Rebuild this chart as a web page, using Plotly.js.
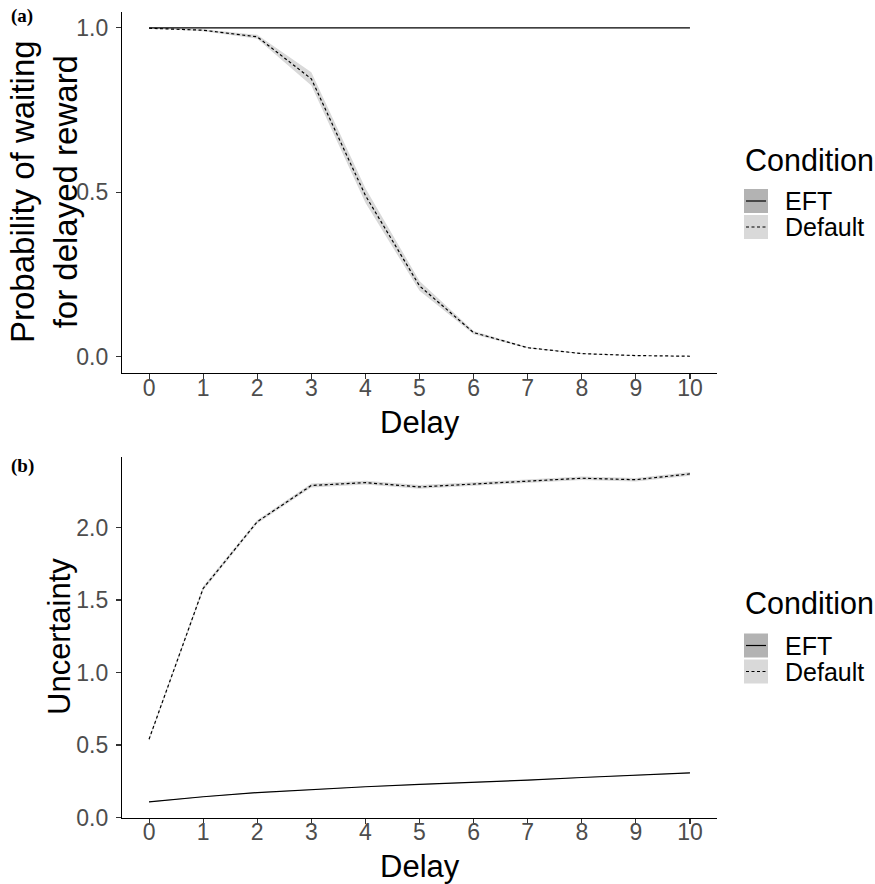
<!DOCTYPE html>
<html>
<head>
<meta charset="utf-8">
<script src="https://cdn.plot.ly/plotly-3.0.1.min.js"></script>
<style>html,body{margin:0;padding:0;background:#fff;}#chart{width:875px;height:884px;}</style>
</head>
<body>
<div id="chart"></div>
<script>
// ---- data ----
const delay = [0, 1, 2, 3, 4, 5, 6, 7, 8, 9, 10];
const xTickLabels = ['0','1','2','3','4','5','6','7','8','9','10'];
const conditions = ['EFT', 'Default'];

// panel (a): probability of waiting for delayed reward
const probEFT      = [1.000, 1.000, 1.000, 1.000, 1.000, 1.000, 1.000, 1.000, 1.000, 1.000, 1.000];
const probEFTLo    = [0.9995, 0.9995, 0.9995, 0.9995, 0.9995, 0.9995, 0.9995, 0.9995, 0.9995, 0.9995, 0.9995];
const probEFTHi    = [1.000, 1.000, 1.000, 1.000, 1.000, 1.000, 1.000, 1.000, 1.000, 1.000, 1.000];
const probDefault   = [0.999, 0.993, 0.973, 0.845, 0.490, 0.215, 0.073, 0.027, 0.009, 0.003, 0.001];
const probDefaultLo = [0.998, 0.990, 0.967, 0.825, 0.468, 0.200, 0.068, 0.025, 0.008, 0.0025, 0.0007];
const probDefaultHi = [1.000, 0.996, 0.979, 0.865, 0.512, 0.230, 0.078, 0.029, 0.010, 0.0035, 0.0013];

// panel (b): uncertainty
const uncEFT      = [0.108, 0.143, 0.172, 0.193, 0.212, 0.228, 0.242, 0.258, 0.276, 0.292, 0.308];
const uncEFTLo    = [0.106, 0.141, 0.170, 0.191, 0.210, 0.226, 0.240, 0.256, 0.274, 0.290, 0.306];
const uncEFTHi    = [0.110, 0.145, 0.174, 0.195, 0.214, 0.230, 0.244, 0.260, 0.278, 0.294, 0.310];
const uncDefault   = [0.54, 1.58, 2.04, 2.29, 2.31, 2.28, 2.30, 2.32, 2.34, 2.33, 2.37];
const uncDefaultLo = [0.53, 1.565, 2.028, 2.277, 2.297, 2.267, 2.288, 2.308, 2.328, 2.318, 2.357];
const uncDefaultHi = [0.55, 1.595, 2.052, 2.303, 2.323, 2.293, 2.312, 2.332, 2.352, 2.342, 2.383];

// ---- styling ----
const W = 875, H = 884;
const px = v => v / W;
const py = v => 1 - v / H;
const sansFont = 'Liberation Sans, Arial, sans-serif';
const serifFont = 'Liberation Serif, Times New Roman, serif';
const fillEFT = '#b3b3b3';
const fillDefault = '#d9d9d9';
const dotDash = '3px,2.5px';
const lineW = 1.2;

function ribbon(x, lo, hi, fill, xa, ya) {
  return [
    {x: x, y: lo, xaxis: xa, yaxis: ya, mode: 'lines', line: {width: 0, color: fill}, showlegend: false, hoverinfo: 'skip'},
    {x: x, y: hi, xaxis: xa, yaxis: ya, mode: 'lines', line: {width: 0, color: fill}, fill: 'tonexty', fillcolor: fill, showlegend: false, hoverinfo: 'skip'}
  ];
}
function line(x, y, dash, xa, ya, name) {
  return {x: x, y: y, xaxis: xa, yaxis: ya, mode: 'lines', name: name,
          line: {color: 'black', width: lineW, dash: dash}, showlegend: false};
}

const traces = [].concat(
  ribbon(delay, probEFTLo, probEFTHi, fillEFT, 'x', 'y'),
  ribbon(delay, probDefaultLo, probDefaultHi, fillDefault, 'x', 'y'),
  [line(delay, probEFT, 'solid', 'x', 'y', conditions[0]),
   line(delay, probDefault, dotDash, 'x', 'y', conditions[1])],
  ribbon(delay, uncEFTLo, uncEFTHi, fillEFT, 'x2', 'y2'),
  ribbon(delay, uncDefaultLo, uncDefaultHi, fillDefault, 'x2', 'y2'),
  [line(delay, uncEFT, 'solid', 'x2', 'y2', conditions[0]),
   line(delay, uncDefault, dotDash, 'x2', 'y2', conditions[1])]
);

const axisCommon = {
  showgrid: false, zeroline: false, showline: true, linecolor: 'black', linewidth: 1.1,
  ticks: 'outside', ticklen: 5, tickwidth: 1.1, tickcolor: '#333333',
  tickfont: {family: sansFont, size: 23, color: '#4d4d4d'}, fixedrange: true
};

const xDomain = [px(122), px(717)];

// legend pieces (drawn manually to mimic ggplot keys)
function legendItems(titleY, box1Top, box2Top) {
  const shapes = [];
  const anns = [];
  const boxes = [[box1Top, fillEFT, 'solid'], [box2Top, fillDefault, 'dot']];
  boxes.forEach((b, i) => {
    shapes.push({type: 'rect', xref: 'paper', yref: 'paper', x0: px(744), x1: px(768), y0: py(b[0]), y1: py(b[0] + 24),
                 fillcolor: b[1], line: {width: 0}, layer: 'above'});
    shapes.push({type: 'line', xref: 'paper', yref: 'paper', x0: px(746), x1: px(766), y0: py(b[0] + 12), y1: py(b[0] + 12),
                 line: {color: 'black', width: lineW, dash: b[2] === 'solid' ? 'solid' : dotDash}, layer: 'above'});
    anns.push({xref: 'paper', yref: 'paper', x: px(783), y: py(b[0] + 12), xanchor: 'left', yanchor: 'middle',
               text: conditions[i], showarrow: false, font: {family: sansFont, size: 25, color: 'black'}});
  });
  anns.push({xref: 'paper', yref: 'paper', x: px(743), y: py(titleY), xanchor: 'left', yanchor: 'middle',
             text: 'Condition', showarrow: false, font: {family: sansFont, size: 30.5, color: 'black'}});
  return {shapes, anns};
}
const legA = legendItems(160, 189, 215);
const legB = legendItems(603, 633.5, 659.5);

const titleFont = {family: sansFont, size: 31, color: 'black'};
const titleFontA = {family: sansFont, size: 33, color: 'black'};

const layout = {
  width: W, height: H, autosize: false,
  margin: {l: 0, r: 0, t: 0, b: 0},
  paper_bgcolor: 'white', plot_bgcolor: 'white',
  showlegend: false,
  xaxis: Object.assign({}, axisCommon, {domain: xDomain, anchor: 'y', range: [-0.5, 10.5],
         tickvals: delay, ticktext: xTickLabels, ticklabelstandoff: -11}),
  yaxis: Object.assign({}, axisCommon, {domain: [py(373), py(11.5)], anchor: 'x', range: [-0.05, 1.05],
         tickvals: [0, 0.5, 1], ticktext: ['0.0', '0.5', '1.0'], ticklabelstandoff: 3}),
  xaxis2: Object.assign({}, axisCommon, {domain: xDomain, anchor: 'y2', range: [-0.5, 10.5],
         tickvals: delay, ticktext: xTickLabels, ticklabelstandoff: -11}),
  yaxis2: Object.assign({}, axisCommon, {domain: [py(817.5), py(456.5)], anchor: 'x2', range: [0, 2.49],
         tickvals: [0, 0.5, 1, 1.5, 2], ticktext: ['0.0', '0.5', '1.0', '1.5', '2.0'], ticklabelstandoff: 3}),
  shapes: legA.shapes.concat(legB.shapes),
  annotations: [
    {xref: 'paper', yref: 'paper', x: px(22), y: py(16), text: '<b>(a)</b>', showarrow: false,
     xanchor: 'center', yanchor: 'middle', font: {family: serifFont, size: 19, color: 'black'}},
    {xref: 'paper', yref: 'paper', x: px(22), y: py(466), text: '<b>(b)</b>', showarrow: false,
     xanchor: 'center', yanchor: 'middle', font: {family: serifFont, size: 19, color: 'black'}},
    {xref: 'paper', yref: 'paper', x: px(44), y: py(192), text: 'Probability of waiting<br>for delayed reward',
     showarrow: false, textangle: -90, xanchor: 'center', yanchor: 'middle', font: titleFontA},
    {xref: 'paper', yref: 'paper', x: px(59), y: py(637), text: 'Uncertainty',
     showarrow: false, textangle: -90, xanchor: 'center', yanchor: 'middle', font: titleFont},
    {xref: 'paper', yref: 'paper', x: px(420), y: py(422), text: 'Delay', showarrow: false,
     xanchor: 'center', yanchor: 'middle', font: titleFont},
    {xref: 'paper', yref: 'paper', x: px(420), y: py(866), text: 'Delay', showarrow: false,
     xanchor: 'center', yanchor: 'middle', font: titleFont}
  ].concat(legA.anns, legB.anns)
};

Plotly.newPlot('chart', traces, layout, {displayModeBar: false, staticPlot: true});
</script>
</body>
</html>
